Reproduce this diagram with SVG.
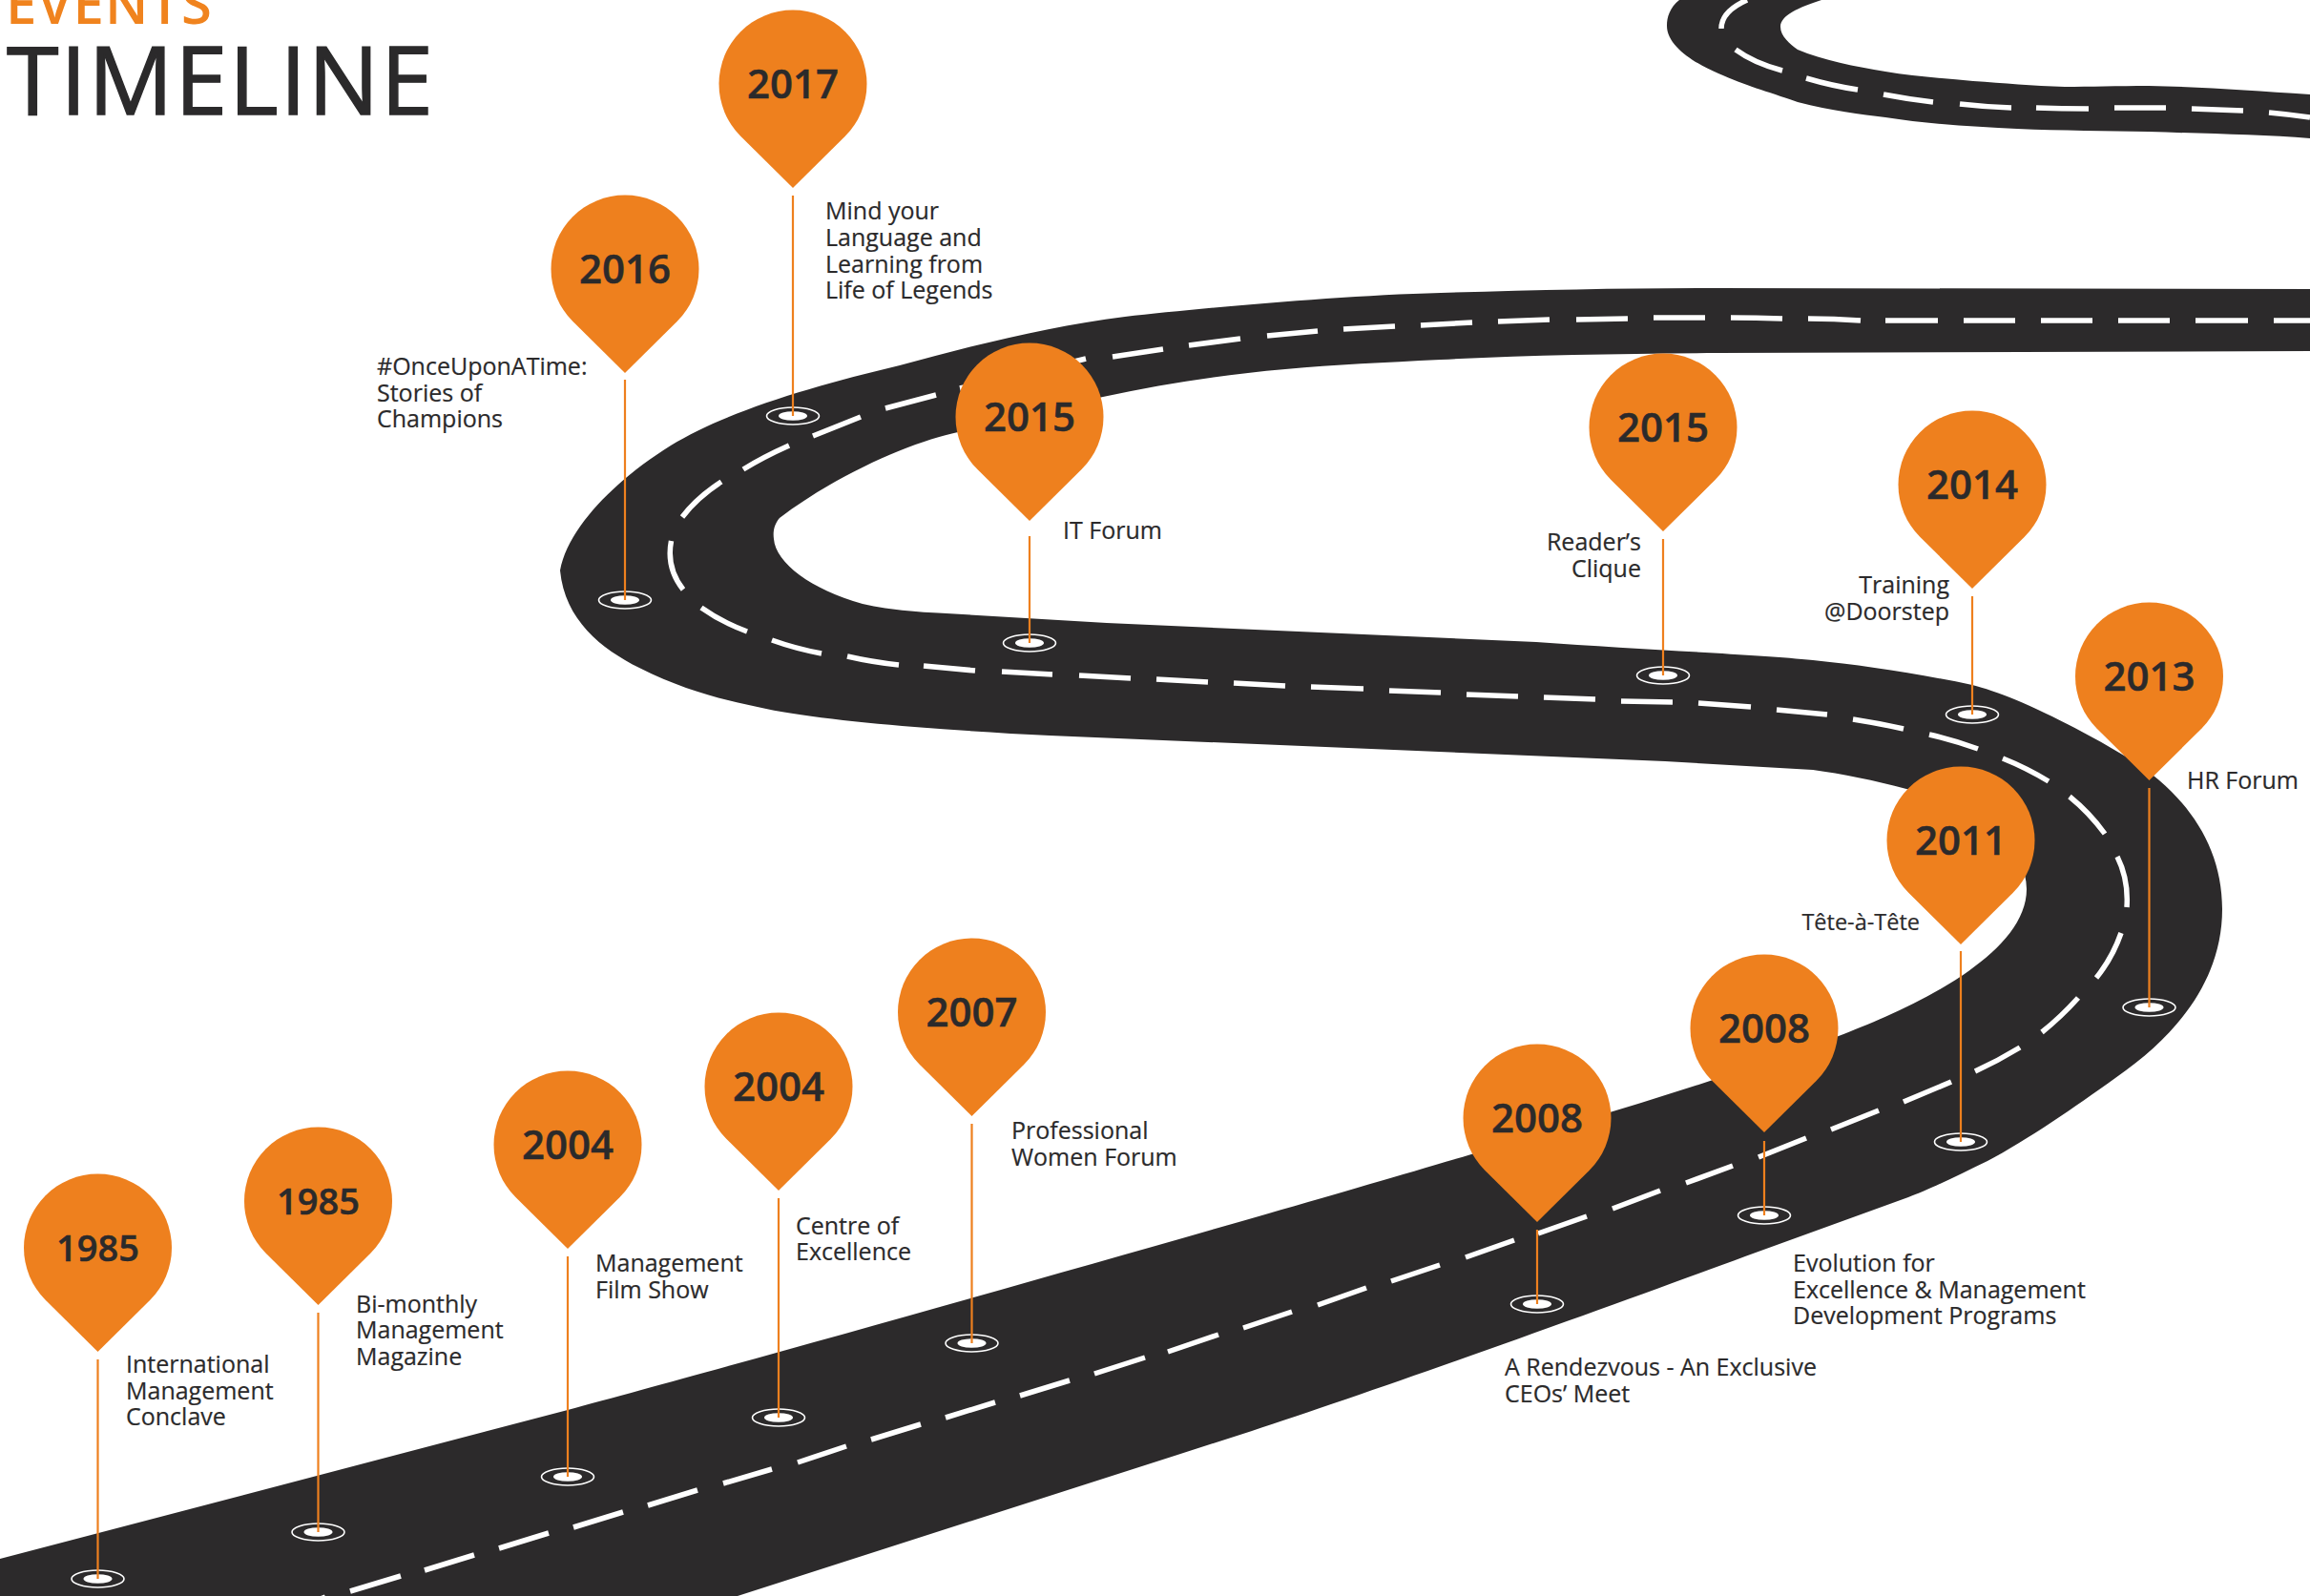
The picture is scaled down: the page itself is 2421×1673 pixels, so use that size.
<svg xmlns="http://www.w3.org/2000/svg" width="2421" height="1673" viewBox="0 0 2421 1673">
<style>
text{font-family:"Open Sans","Noto Sans","DejaVu Sans",sans-serif;fill:#2b2a2b}
.lbl{font-size:25px;stroke:#2b2a2b;stroke-width:.2px}
.r{text-anchor:end}
.yr{font-size:42px;font-weight:600;text-anchor:middle;stroke:#2b2a2b;stroke-width:.5px}
.yr.s{font-size:38px}
.pin{fill:#ee801e}
.road{fill:#2c2a2b}
.dash{fill:none;stroke:#fff;stroke-width:5.5}
.ring{fill:none;stroke:#fff;stroke-width:1.6}
.dot{fill:#fff}
.lead{stroke:#ee801e;stroke-width:2.2;fill:none}
</style>
<defs>
<path id="drop" d="M0 109L-54.8 54.8A77.5 77.5 0 1 1 54.8 54.8Z"/>
<g id="spot"><ellipse class="ring" rx="27.5" ry="9"/><ellipse class="dot" rx="15" ry="4.8"/></g>
</defs>
<rect width="2421" height="1673" fill="#fff"/>
<g id="road">
<path class="road" d="M1760 0C1750 8 1747 18 1747 27C1747 50 1780 68 1801 77C1830 90 1850 95 1884 107C1920 116 1950 120 1976 123C2020 130 2070 133 2114 135C2160 137 2210 137 2252 138C2310 140 2370 141 2421 145V99C2360 95 2310 91 2252 90C2220 90 2190 91 2164 91C2130 90 2100 87 2068 85C2035 82 2005 80 1976 75C1945 70 1910 63 1884 52C1876 46 1866 38 1866 28C1866 16 1885 8 1909 0Z"/>
<path class="road" d="M0 1634L595 1478C800 1423 1300 1282 1542 1210C1660 1174 1800 1134 1927 1086C1990 1062 2124 1005 2124 932C2124 880 2060 842 1998 827C1965 818 1930 811 1900 807L1745 798L1100 771C1000 766 870 757 803 743C760 734 720 725 670 700C630 680 592 650 587 598C596 550 650 500 703 467C760 432 850 405 943 383C1020 362 1100 342 1179 332C1260 323 1400 310 1510 307C1610 304 1700 302 1800 302L2421 303V368L1800 370C1700 371 1600 372 1510 377C1450 380 1400 382 1347 387C1280 393 1220 402 1156 416C1100 428 1050 438 1004 453C960 462 880 495 817 543C811 550 810 558 811 565C813 590 850 618 904 633C935 640 970 642 992 643L1160 653L1610 673C1720 681 1840 686 1900 692C1950 697 2010 706 2067 718C2100 726 2160 752 2233 796C2290 832 2329 885 2329 953C2329 1020 2290 1080 2217 1130C2175 1160 2125 1195 2083 1217C2050 1233 2020 1248 2000 1255L1829 1317C1700 1365 1450 1455 1312 1500L773 1673H0Z"/>
<path class="dash" d="M1831 0Q1804 12 1804 30M1819 52Q1838 66 1868 74M1893 82Q1920 90 1947 94M1974 99Q2000 104 2026 107M2054 109Q2080 112 2108 113M2134 113Q2160 114 2189 114M2216 113H2270M2297 114Q2325 115 2351 116M2378 118Q2400 120 2421 123"/>
<path class="dash" d="M2421 336H2383M2356 336H2301M2274 336H2220M2193 336H2139M2112 336H2058M2031 336H1976M1950 336Q1922 334 1895 334M1868 334Q1840 333 1814 333M1787 333H1733M1706 334L1652 335M1624 335L1570 337M1543 338L1489 341M1462 342L1408 345M1381 347L1328 352M1300 355L1246 362M1219 366L1166 374M1138 376L1085 389M1058 395L1006 407M981 414L928 428M902 437L852 457M827 467Q800 479 779 492M756 505Q730 522 715 542M703.5 567Q698 595 716 618M735 637Q756 652 783 662M809 671Q834 680 861 685M888 688Q914 694 942 697M968 698L1022 703M1050 704L1103 707M1131 708L1185 711M1212 712L1266 715M1293 716L1347 719M1374 720L1429 722M1456 724L1510 726M1537 728L1591 730M1618 731L1672 733M1699 735L1753 736M1780 737L1835 741M1862 744L1915 749M1942 754Q1968 758 1995 764M2022 770Q2048 776 2073 785M2099 795Q2124 805 2147 819M2169 835Q2190 852 2206 874M2219 898Q2231 922 2229 951M2223 978Q2214 1004 2197 1025M2178 1046Q2160 1066 2140 1082M2117 1098Q2094 1112 2070 1123M2045 1134L1995 1155M1969 1164L1919 1184M1893 1193L1843 1213M1816 1222L1767 1240M1740 1248L1690 1267M1663 1275L1612 1293M1587 1300L1536 1318M1509 1326L1458 1343M1432 1350L1381 1368M1354 1375L1303 1392M1277 1399L1224 1417M1200 1423L1147 1440M1121 1447L1069 1463M1043 1470L991 1486M965 1493L913 1509M887 1516L836 1533M809 1540L758 1555M731 1562L679 1578M653 1585L601 1601M575 1607L523 1623M497 1630L445 1646M420 1652L367 1668M341 1674L336 1676"/>
</g>
<g id="title">
<text x="6" y="25" font-size="58" font-weight="600" letter-spacing="1" style="fill:#f0831e">EVENTS</text>
<text x="7" y="120" font-size="99" font-weight="500" letter-spacing="1.7" stroke="#2b2a2b" stroke-width="1.4">TIMELINE</text>
</g>
<g id="n1985-conclave"><use href="#spot" x="102.5" y="1655"/><use href="#drop" class="pin" x="102.5" y="1308"/><text class="yr s" x="102.5" y="1322">1985</text><text class="lbl" x="132" y="1439">International</text><text class="lbl" x="132" y="1467">Management</text><text class="lbl" x="132" y="1494">Conclave</text></g>
<g id="n1985-magazine"><use href="#spot" x="333.5" y="1606"/><use href="#drop" class="pin" x="333.5" y="1259"/><text class="yr s" x="333.5" y="1273">1985</text><text class="lbl" x="373" y="1376">Bi-monthly</text><text class="lbl" x="373" y="1403">Management</text><text class="lbl" x="373" y="1431">Magazine</text></g>
<g id="n2004-film"><use href="#spot" x="595" y="1548"/><use href="#drop" class="pin" x="595" y="1200"/><text class="yr" x="595" y="1215">2004</text><text class="lbl" x="624" y="1333">Management</text><text class="lbl" x="624" y="1361">Film Show</text></g>
<g id="n2004-centre"><use href="#spot" x="816" y="1486"/><use href="#drop" class="pin" x="816" y="1139"/><text class="yr" x="816" y="1154">2004</text><text class="lbl" x="834" y="1294">Centre of</text><text class="lbl" x="834" y="1321">Excellence</text></g>
<g id="n2007"><use href="#spot" x="1018.5" y="1408"/><use href="#drop" class="pin" x="1018.5" y="1061"/><text class="yr" x="1018.5" y="1076">2007</text><text class="lbl" x="1060" y="1194">Professional</text><text class="lbl" x="1060" y="1222">Women Forum</text></g>
<g id="n2008-ceo"><use href="#spot" x="1611" y="1367"/><use href="#drop" class="pin" x="1611" y="1172"/><text class="yr" x="1611" y="1187">2008</text><text class="lbl" x="1577" y="1442">A Rendezvous - An Exclusive</text><text class="lbl" x="1577" y="1470">CEOs’ Meet</text></g>
<g id="n2008-evolution"><use href="#spot" x="1849" y="1274"/><use href="#drop" class="pin" x="1849" y="1078"/><text class="yr" x="1849" y="1093">2008</text><text class="lbl" x="1879" y="1333">Evolution for</text><text class="lbl" x="1879" y="1361">Excellence &amp; Management</text><text class="lbl" x="1879" y="1388">Development Programs</text></g>
<g id="n2011"><use href="#spot" x="2055" y="1197"/><use href="#drop" class="pin" x="2055" y="881"/><text class="yr" x="2055" y="896">2011</text><text class="lbl r" x="2012" y="975" style="font-size:23.5px;font-weight:500">Tête-à-Tête</text></g>
<g id="n2013"><use href="#spot" x="2252.5" y="1056"/><use href="#drop" class="pin" x="2252.5" y="709"/><text class="yr" x="2252.5" y="724">2013</text><text class="lbl" x="2292" y="827">HR Forum</text></g>
<g id="n2014"><use href="#spot" x="2067" y="749"/><use href="#drop" class="pin" x="2067" y="508"/><text class="yr" x="2067" y="523">2014</text><text class="lbl r" x="2043" y="622">Training</text><text class="lbl r" x="2043" y="650">@Doorstep</text></g>
<g id="n2015-clique"><use href="#spot" x="1743" y="708"/><use href="#drop" class="pin" x="1743" y="448"/><text class="yr" x="1743" y="463">2015</text><text class="lbl r" x="1720" y="577">Reader’s</text><text class="lbl r" x="1720" y="605">Clique</text></g>
<g id="n2015-it"><use href="#spot" x="1079" y="674"/><use href="#drop" class="pin" x="1079" y="437"/><text class="yr" x="1079" y="452">2015</text><text class="lbl" x="1114" y="565">IT Forum</text></g>
<g id="n2016"><use href="#spot" x="655" y="629"/><use href="#drop" class="pin" x="655" y="282"/><text class="yr" x="655" y="297">2016</text><text class="lbl" x="395" y="393">#OnceUponATime:</text><text class="lbl" x="395" y="421">Stories of</text><text class="lbl" x="395" y="448">Champions</text></g>
<g id="n2017"><use href="#spot" x="831" y="436"/><use href="#drop" class="pin" x="831" y="88"/><text class="yr" x="831" y="103">2017</text><text class="lbl" x="865" y="230">Mind your</text><text class="lbl" x="865" y="258">Language and</text><text class="lbl" x="865" y="286">Learning from</text><text class="lbl" x="865" y="313">Life of Legends</text></g>
<g id="connectors">
<path class="lead" d="M102.5 1425V1655M333.5 1376V1606M595 1317V1548M816 1256V1486M1018.5 1178V1408M1611 1289V1367M1849 1196V1274M2055 997V1197M2252.5 826V1056M2067 625V749M1743 565V708M1079 562V674M655 398V629M831 205V436"/>
</g>
</svg>
